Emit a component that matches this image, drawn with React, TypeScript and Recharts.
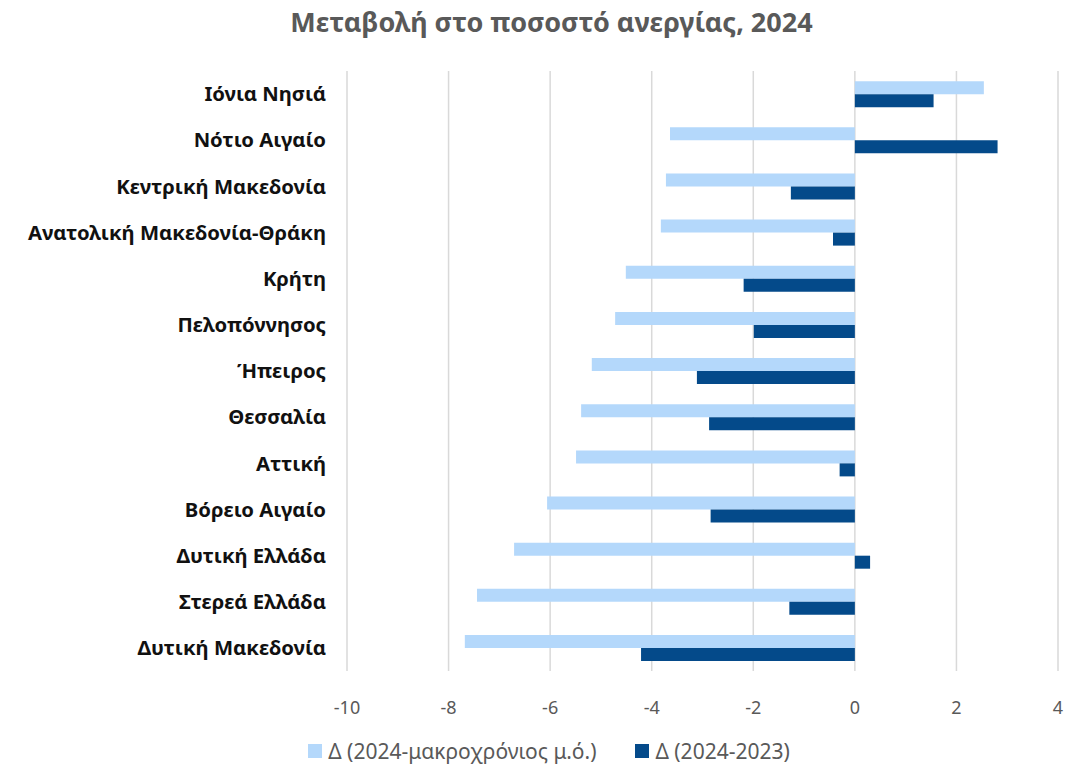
import { BarChart, Bar, XAxis, YAxis, CartesianGrid, Legend } from "recharts";

// Regions, top to bottom
const regions = [
  "Ιόνια Νησιά",
  "Νότιο Αιγαίο",
  "Κεντρική Μακεδονία",
  "Ανατολική Μακεδονία-Θράκη",
  "Κρήτη",
  "Πελοπόννησος",
  "Ήπειρος",
  "Θεσσαλία",
  "Αττική",
  "Βόρειο Αιγαίο",
  "Δυτική Ελλάδα",
  "Στερεά Ελλάδα",
  "Δυτική Μακεδονία",
];

// Δ (2024 - long-term average)
const vsLongTerm = [2.54, -3.64, -3.72, -3.82, -4.51, -4.72, -5.18, -5.39, -5.49, -6.06, -6.71, -7.44, -7.68];
// Δ (2024 - 2023)
const vsPrevYear = [1.55, 2.81, -1.26, -0.43, -2.19, -1.99, -3.11, -2.87, -0.3, -2.84, 0.3, -1.29, -4.21];

const xTicks = [-10, -8, -6, -4, -2, 0, 2, 4];

const seriesNames = ["Δ (2024-μακροχρόνιος μ.ό.)", "Δ (2024-2023)"];
const seriesColors = ["#b4d8fb", "#044a8a"];

const data = regions.map((name, i) => ({
  name,
  longTerm: vsLongTerm[i],
  prevYear: vsPrevYear[i],
}));

const FONT = "'Noto Sans', 'Open Sans', sans-serif";

function LegendBox() {
  return (
    <div
      style={{
        height: 28,
        display: "flex",
        justifyContent: "center",
        alignItems: "center",
        gap: 39,
        fontFamily: FONT,
        fontSize: 21,
        color: "#595959",
        paddingLeft: 40,
      }}
    >
      {seriesNames.map((n, i) => (
        <span key={n} style={{ display: "flex", alignItems: "center" }}>
          <span style={{ width: 14, height: 14, background: seriesColors[i], marginRight: 6, display: "inline-block" }} />
          {n}
        </span>
      ))}
    </div>
  );
}

export default function App() {
  return (
    <div style={{ position: "absolute", left: 0, top: 0, width: 1081, height: 765, background: "#fff", fontFamily: FONT }}>
      <div
        style={{
          position: "absolute",
          top: 4,
          left: 11,
          width: 1081,
          lineHeight: "36px",
          textAlign: "center",
          fontSize: 27,
          fontWeight: 700,
          color: "#595959",
        }}
      >
        Μεταβολή στο ποσοστό ανεργίας, 2024
      </div>
      <BarChart
        width={1081}
        height={765}
        data={data}
        layout="vertical"
        margin={{ top: 71, right: 23, bottom: 0, left: 0 }}
        barCategoryGap="22%"
        barGap={0}
      >
        <CartesianGrid horizontal={false} stroke="#d9d9d9" strokeWidth={1.5} />
        <XAxis
          type="number"
          domain={[-10, 4]}
          ticks={xTicks}
          axisLine={false}
          tickLine={false}
          tick={{ fontSize: 18, fill: "#595959", fontFamily: FONT }}
          tickMargin={24}
          height={66}
        />
        <YAxis
          type="category"
          dataKey="name"
          width={347}
          axisLine={false}
          tickLine={false}
          tick={{ fontSize: 20.3, fill: "#111", fontWeight: 700, fontFamily: FONT }}
          tickMargin={15}
          interval={0}
        />
        <Legend verticalAlign="bottom" content={() => <LegendBox />} />
        <Bar dataKey="longTerm" name={seriesNames[0]} fill={seriesColors[0]} isAnimationActive={false} />
        <Bar dataKey="prevYear" name={seriesNames[1]} fill={seriesColors[1]} isAnimationActive={false} />
      </BarChart>
    </div>
  );
}
